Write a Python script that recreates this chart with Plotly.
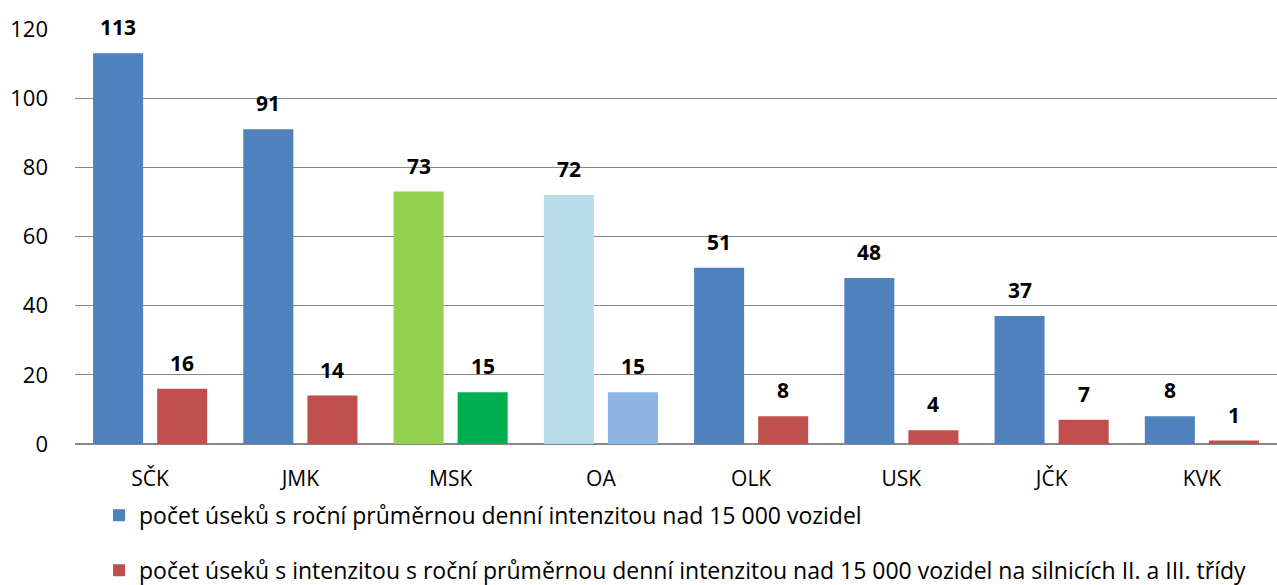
import plotly.graph_objects as go

regions = ["SČK", "JMK", "MSK", "OA", "OLK", "USK", "JČK", "KVK"]
sections_all = [113, 91, 73, 72, 51, 48, 37, 8]
sections_minor_roads = [16, 14, 15, 15, 8, 4, 7, 1]

name_all = "počet úseků s roční průměrnou denní intenzitou nad 15 000 vozidel"
name_minor = ("počet úseků s intenzitou s roční průměrnou denní intenzitou nad 15 000 "
              "vozidel na silnicích II. a III. třídy")

blue, red = "#4F81BD", "#C0504D"
colors_all = [blue, blue, "#92D050", "#B7DDE8", blue, blue, blue, blue]
colors_minor = [red, red, "#00B050", "#8DB4E2", red, red, red, red]

font_family = "Open Sans, sans-serif"

fig = go.Figure()
fig.add_trace(go.Bar(x=regions, y=sections_all, name=name_all,
                     marker=dict(color=colors_all, line=dict(width=0)),
                     legendgroup="a"))
fig.add_trace(go.Bar(x=regions, y=sections_minor_roads, name=name_minor,
                     marker=dict(color=colors_minor, line=dict(width=0)),
                     legendgroup="b"))

# value labels above each bar, centred on the bar within its group
offset = 32
for xs, ys, dx in [(regions, sections_all, -offset), (regions, sections_minor_roads, offset)]:
    for x, y in zip(xs, ys):
        fig.add_annotation(x=x, y=y, text=f"<b>{y}</b>", showarrow=False,
                           xshift=dx, yshift=10, yanchor="bottom",
                           font=dict(size=21, color="black", family=font_family))

fig.update_layout(
    width=1277, height=585,
    margin=dict(l=75, r=0, t=29, b=141, autoexpand=False),
    paper_bgcolor="white", plot_bgcolor="white",
    barmode="group", bargap=0.147, bargroupgap=0.219,
    font=dict(family=font_family, size=21, color="black"),
    showlegend=True,
    legend=dict(x=0.02, y=-0.12, xanchor="left", yanchor="top",
                orientation="v", tracegroupgap=22,
                font=dict(size=23, family=font_family),
                itemwidth=30),
    xaxis=dict(showline=True, linecolor="#868686", linewidth=1,
               ticks="", ticklabelstandoff=16,
               tickfont=dict(size=21)),
    yaxis=dict(range=[0, 120], dtick=20, showgrid=True, gridcolor="#868686",
               gridwidth=1, zeroline=True, zerolinecolor="#868686",
               ticks="", ticklabelstandoff=26, tickfont=dict(size=22)),
)

fig.write_html("out.html")
